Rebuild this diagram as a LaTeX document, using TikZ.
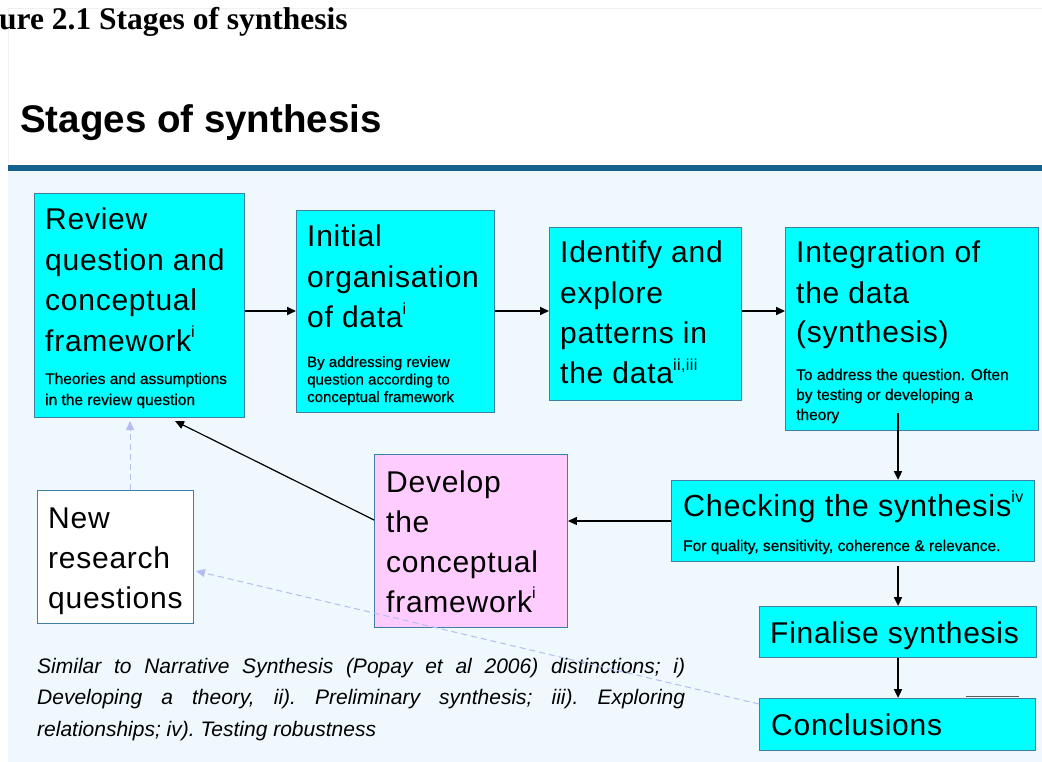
\documentclass[tikz,border=0pt]{standalone}
\usepackage{fontspec}
\setmainfont{Liberation Sans}
\newfontfamily\serifbold{Liberation Serif}
\newfontfamily\smallf{Liberation Sans}[FakeBold=0.6]
\newfontfamily\bigf{Liberation Sans}[LetterSpace=2.5]
\usetikzlibrary{arrows.meta}
\definecolor{cyanbox}{HTML}{00FFFF}
\definecolor{pinkbox}{HTML}{FFCCFF}
\definecolor{boxline}{HTML}{3F7FA6}
\definecolor{slidebg}{HTML}{EEF8FD}
\definecolor{barblue}{HTML}{14628C}
\definecolor{lav}{HTML}{B3BDF2}
\newcommand\tl[3]{\vtop{\bigf\fontsize{#1}{#2}\selectfont\halign{##\hfil\cr#3\crcr}}}
\newcommand\ts[3]{\vtop{\smallf\fontsize{#1}{#2}\selectfont\halign{##\hfil\cr#3\crcr}}}
\newcommand\supr[1]{\raisebox{0.45em}{\fontsize{16}{16}\selectfont #1}}
\tikzset{
  stagebox/.style={draw=boxline, line width=0.9pt, fill=cyanbox, anchor=north west, inner sep=0pt},
  txt/.style={inner sep=0pt, anchor=base west},
  mainarrow/.style={line width=2.2pt, -{Triangle[length=9pt,width=8pt]}},
  thinarrow/.style={line width=1.2pt, -{Triangle[length=9pt,width=8pt]}},
  dasharrow/.style={draw=lav, line width=1pt, dash pattern=on 6pt off 4pt, -{Triangle[length=9pt,width=8pt,fill=lav]}},
}
\begin{document}
\begin{tikzpicture}[x=1pt,y=-1pt]
\useasboundingbox (0,0) rectangle (1042,762);
\fill[white] (0,0) rectangle (1042,762);
% slide
\draw[black!6, line width=0.8pt] (8,762) -- (8,8) -- (1042,8);
\fill[slidebg] (8,171.5) rectangle (1042,762);
\fill[barblue] (8,165) rectangle (1042,171.5);
% titles
\node[txt] (figtitle) at (-1,30) {\serifbold\fontsize{31.5}{31.5}\selectfont\bfseries ure 2.1 Stages of synthesis};
\node[txt] (slidetitle) at (20,133) {\fontsize{38.5}{38.5}\selectfont\bfseries Stages of synthesis};
% boxes
\node[stagebox, minimum width=210pt, minimum height=224pt] (review) at (34,193) {};
\node[stagebox, minimum width=198pt, minimum height=202pt] (initial) at (296,210) {};
\node[stagebox, minimum width=192pt, minimum height=173pt] (identify) at (549,227) {};
\node[stagebox, minimum width=253pt, minimum height=203pt] (integration) at (785,227) {};
\node[stagebox, minimum width=363pt, minimum height=81pt] (checking) at (671,480) {};
\node[stagebox, minimum width=277pt, minimum height=51pt] (finalise) at (759,606) {};
\node[stagebox, minimum width=276pt, minimum height=52pt] (conclusions) at (759,698) {};
\node[stagebox, fill=pinkbox, minimum width=193pt, minimum height=173pt] (develop) at (374,454) {};
\node[stagebox, fill=white, minimum width=156pt, minimum height=133pt] (newq) at (37,490) {};
% texts
\node[txt] (reviewT) at (45,230) {\tl{30}{40.5}{Review\cr question and\cr conceptual\cr framework\supr{i}}};
\node[txt] (reviewS) at (45,384) {\ts{15.5}{21}{Theories and assumptions\cr in\ the review question}};
\node[txt] (initialT) at (307,247) {\tl{30}{40.5}{Initial\cr organisation\cr of data\supr{i}}};
\node[txt] (initialS) at (307,367) {\ts{15}{17.5}{By addressing review\cr question according to\cr conceptual framework}};
\node[txt] (identifyT) at (560,263) {\tl{30}{40.3}{Identify and\cr explore\cr patterns in\cr the data\supr{ii,iii}}};
\node[txt] (integrationT) at (796,263) {\tl{30}{40}{Integration of\cr the data\cr (synthesis)}};
\node[txt] (integrationS) at (796,380) {\ts{15.5}{20}{To address the question. Often\cr by testing or developing a\cr theory}};
\node[txt] (checkingT) at (683,516) {\tl{30.5}{40}{Checking the synthesis\supr{iv}}};
\node[txt] (checkingS) at (683,551) {\ts{15.5}{20}{For quality, sensitivity, coherence \& relevance.}};
\node[txt] (finaliseT) at (770,643) {\tl{30}{40}{Finalise synthesis}};
\node[txt] (conclusionsT) at (771,735) {\tl{30}{40}{Conclusions}};
\node[txt] (developT) at (386,492) {\tl{30}{40}{Develop\cr the\cr conceptual\cr framework\supr{i}}};
\node[txt] (newqT) at (48,528) {\tl{30}{40}{New\cr research\cr questions}};
\node[txt] (note) at (37,673) {\vtop{\hsize=648pt\fontsize{21}{31.5}\selectfont\itshape\frenchspacing\parindent=0pt\leftskip=0pt\rightskip=0pt
\noindent Similar to Narrative Synthesis (Popay et al 2006) distinctions; i)\linebreak
Developing a theory, ii). Preliminary synthesis; iii). Exploring\linebreak
relationships; iv). Testing robustness\par}};
% connectors
\coordinate (rowy) at (0,311);
\coordinate (intout) at (898,413);
\coordinate (revtip) at (175,421);
\coordinate (newtip) at (130,421);
\coordinate (dashstart) at (759,704);
\coordinate (dashtip) at (196,571);
\draw[mainarrow] (review.east |- rowy) -- (initial.west |- rowy);
\draw[mainarrow] (initial.east |- rowy) -- (identify.west |- rowy);
\draw[mainarrow] (identify.east |- rowy) -- (integration.west |- rowy);
\draw[mainarrow] (intout) -- (intout |- checking.north);
\draw[mainarrow] ([yshift=-4pt]intout |- checking.south) -- (intout |- finalise.north);
\draw[mainarrow] (intout |- finalise.south) -- (intout |- conclusions.north);
\draw[thinarrow] (checking.west |- 0,521) -- (develop.east |- 0,521);
\draw[thinarrow] (develop.west |- 0,520) -- (revtip);
\draw[dasharrow] (newtip |- newq.north) -- (newtip);
\draw[dasharrow] (dashstart) -- (dashtip);
\draw[black!65, line width=1pt] (966,696.5) -- (1019,696.5);
\end{tikzpicture}
\end{document}
